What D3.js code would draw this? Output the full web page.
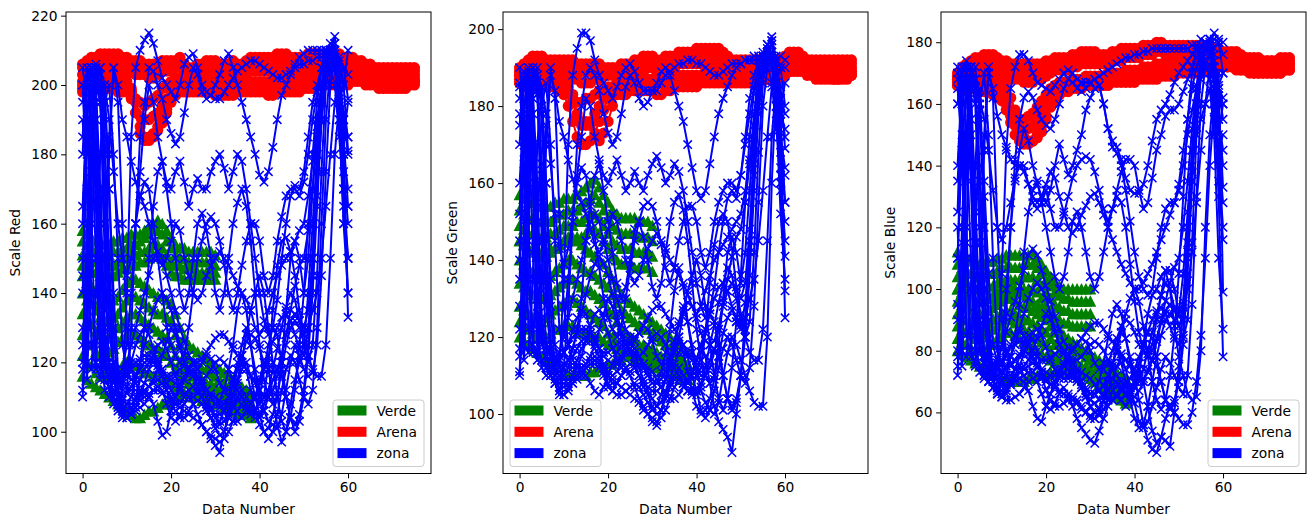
<!DOCTYPE html>
<html>
<head>
<meta charset="utf-8">
<script src="https://cdn.jsdelivr.net/npm/d3@7"></script>
<style>
  body { margin: 0; background: #fff; }
  text { font-family: "DejaVu Sans", sans-serif; }
</style>
</head>
<body>
<div id="chart"></div>
<script>
// ticks and labels
const xTicks = [0, 20, 40, 60];
const yTicksRed = [100, 120, 140, 160, 180, 200, 220];
const yTicksGreen = [100, 120, 140, 160, 180, 200];
const yTicksBlue = [60, 80, 100, 120, 140, 160, 180];
const yLabels = ["Scale Red", "Scale Green", "Scale Blue"];
const xLabel = "Data Number";
const legendNames = ["Verde", "Arena", "zona"];
const legendColors = ["#008000", "#ff0000", "#0000ff"];

// ---- Scale Red ----
const verdeRed = [
  [158,157,156,155,155,154,154,155,155,156,156,157,157,157,158,159,160,161,160,158,156,154,153,153,152,152,152,152,152,152,151],
  [155,154,153,152,152,151,151,152,152,153,153,154,154,155,156,157,158,158,157,155,153,151,150,150,149,149,149,149,149,149,148],
  [151,150,149,149,148,148,148,148,149,150,150,151,151,152,152,153,154,154,153,151,149,148,148,147,147,147,146,146,146,146,146],
  [148,147,146,146,145,145,145,145,146,147,147,148,148,149,149,150,151,151,150,148,146,145,145,144,144,144,144,144,144,144,144],
  [145,143,142,140,138,137,137,138,139,141,143,144,144,143,142,141,140,139,139,138,137,134,130,127,125,124,123,122,121,120,119,118,117,116,115,114,113,112,111],
  [140,138,137,135,133,132,132,133,134,136,138,139,139,138,137,136,135,134,134,133,132,128,125,122,121,120,119,118,118,117,116,115,114,113,112,111,110,109,108],
  [134,132,131,129,128,127,127,128,130,131,133,134,134,133,132,131,130,129,128,127,125,122,120,118,117,116,115,115,114,114,113,112,111,110,110,109,108,107,107],
  [128,126,125,123,122,122,123,124,126,127,128,129,128,127,126,125,124,124,123,122,120,118,116,115,114,113,112,112,111,111,110,110,109,108,108,107,106,106,105],
  [122,120,119,117,116,116,116,117,118,119,120,120,119,118,117,117,116,116,115,115,114,113,112,111,111,110,110,109,109,109,108,108,107,107,106,106,105,105,104],
  [116,115,114,113,112,111,110,109,108,107,106,105,104,104,105,106,106,107,108,108,109,110,110,111,111,111,112,112,112,112,111,110,109,108,107,106,106,105,105]
];
const arenaRed = [
  [206,207,208,208,209,209,209,209,209,208, 208,207,207,207,206,206,206,206,207,207, 207,207,208,206,205,205,206,206,207,207, 207,206,206,206,207,206,206,207,208,208, 208,208,208,208,209,209,209,208,208,208, 208,209,209,209,209,209,209,209,209,208, 208,208,207,207,206,206,205,205,205,205, 205,205,205,205,205,205],
  [205,206,207,207,208,208,208,207,207,207, 207,206,205,205,205,204,204,205,206,206, 206,206,207,205,204,204,205,205,206,206, 206,205,205,205,206,206,206,206,207,207, 207,207,207,207,208,208,208,207,207,207, 207,208,208,208,208,208,208,208,208,207, 207,207,206,206,205,205,205,204,204,204, 204,204,204,204,204,204],
  [203,204,205,206,206,206,206,205,205,205, 205,204,203,203,203,202,202,203,204,204, 204,205,205,204,203,203,203,204,204,205, 204,203,203,204,204,205,205,205,205,206, 206,206,206,206,206,207,207,206,206,206, 206,206,207,207,207,207,207,207,206,206, 206,206,205,205,204,204,204,203,203,203, 203,203,203,203,203,203],
  [201,202,204,205,205,205,204,204,203,203, 203,199,192,186,184,184,185,187,189,192, 195,197,199,200,201,202,202,203,203,203, 203,202,202,202,203,203,203,203,204,204, 204,204,204,204,204,205,205,205,204,204, 205,205,205,205,206,206,206,206,205,205, 205,205,204,204,203,203,203,202,202,202, 202,202,202,202,202,202],
  [200,201,202,203,203,203,202,202,202,202, 201,198,196,195,194,195,196,197,199,200, 201,202,202,201,200,200,200,200,201,201, 200,200,200,200,200,201,201,201,201,201, 201,201,201,201,202,202,202,202,202,202, 203,203,203,204,204,204,204,204,203,203, 203,203,203,203,202,202,201,201,201,201, 201,201,201,201,201,201],
  [199,200,201,201,201,201,201,200,200,200, 200,198,195,191,190,190,191,192,194,196, 198,200,200,199,199,199,199,199,199,199, 198,198,198,198,198,199,199,199,199,199, 199,199,199,199,200,200,200,200,200,200, 201,201,201,202,202,202,202,202,201,201, 201,202,202,202,201,201,201,200,200,200, 200,200,200,200,201,201],
  [198,198,199,199,199,199,199,199,198,198, 198,196,192,188,185,185,186,188,190,193, 196,198,198,198,198,198,198,198,198,198, 197,197,197,197,197,198,198,198,198,198, 198,198,197,197,198,198,198,198,198,198, 199,199,199,200,200,200,200,200,200,200, 200,201,201,201,200,200,200,199,199,199, 199,199,199,199,200,200]
];
const zonaRed = [
  [200,202,205,206,203,195,170,140,118,110, 140,185,205,210,213,215,212,207,202,200, 198,196,200,206,208,209,205,200,198,197, 196,196,198,200,202,204,205,206,207,207, 206,205,204,203,202,202,203,204,205,206, 206,207,207,208,208,208,209,210,208,205, 196],
  [120,160,200,204,200,180,140,115,110,108, 112,130,160,185,195,205,204,200,196,190, 186,183,185,192,200,205,203,198,196,197, 200,203,207,209,205,200,195,190,185,180, 174,172,175,182,190,197,200,203,206,208, 209,210,210,210,210,210,210,209,207,200, 181],
  [165,190,205,200,170,130,118,116,115,118, 125,140,160,175,190,200,195,185,178,172, 170,175,178,172,165,170,173,170,170,175, 178,180,176,170,175,180,178,170,160,150, 140,132,128,130,138,150,160,168,171,170, 175,185,195,200,205,208,210,212,200,185, 165],
  [140,180,200,195,160,125,112,108,106,106, 108,110,115,120,130,150,165,175,178,170, 160,150,140,135,140,150,160,163,158,150, 140,135,140,150,160,166,170,165,155,140, 125,115,110,108,110,120,135,150,155,150, 140,150,170,190,200,205,208,206,190,165, 150],
  [180,205,190,150,120,115,113,110,108,107, 106,105,106,107,108,110,112,113,112,108, 104,103,105,108,110,108,105,102,100,98, 96,94,100,105,108,110,112,110,108,110, 115,120,118,110,102,97,100,108,115,120, 125,140,160,180,195,205,210,214,200,170, 140],
  [125,150,185,200,195,160,130,118,115,114, 113,112,112,112,111,110,108,103,99,100, 106,110,114,116,117,116,115,114,112,110, 108,107,108,110,113,118,125,130,125,118, 112,106,103,102,101,105,112,120,125,122, 118,116,117,125,145,175,200,210,205,180, 133],
  [195,200,198,180,150,128,120,117,116,115, 117,120,125,128,130,128,124,120,118,116, 115,114,113,115,118,120,118,115,112,110, 108,109,112,118,125,135,140,135,125,115, 108,110,120,135,148,155,156,152,145,135, 128,122,118,116,116,125,150,180,195,200, 210],
  [110,130,170,205,205,200,190,175,160,150, 145,150,160,168,172,170,160,150,140,130, 125,122,120,122,130,140,150,155,160,162, 160,155,148,140,135,140,148,155,160,160, 155,145,140,145,155,162,168,170,170,168, 172,180,190,198,205,210,212,210,195,160, 150],
  [150,120,118,140,180,200,170,130,112,105, 104,106,110,115,118,120,122,121,118,112, 108,106,104,104,106,108,109,108,106,104, 102,103,106,110,115,120,122,118,112,106, 102,100,101,105,110,118,125,130,132,130, 128,130,135,140,150,165,180,195,203,205, 203],
  [190,170,140,120,118,140,180,205,200,190, 185,178,172,168,165,160,155,150,148,150, 155,160,158,150,145,140,138,140,145,148, 150,152,150,148,145,142,140,138,135,130, 128,130,135,140,145,148,150,152,155,158, 160,168,178,188,196,202,205,200,185,170, 165],
  [200,170,125,118,150,195,200,180,150,125, 118,115,116,118,120,121,120,118,116,114, 112,110,112,115,117,118,116,113,110,107, 104,102,103,106,110,114,118,120,116,110, 105,100,98,100,105,112,118,122,120,115, 110,108,112,130,160,190,205,208,200,185, 195],
  [130,115,150,200,205,185,150,120,108,104, 104,105,107,110,112,113,114,115,114,112, 110,108,108,110,112,113,112,110,107,104, 101,99,100,104,107,109,110,108,106,106, 110,118,125,130,128,120,110,104,102,105, 112,125,150,180,200,208,210,208,196,175, 160],
  [185,205,200,165,130,118,115,114,114,115, 116,118,120,121,122,122,121,119,117,116, 116,117,118,119,118,116,113,110,108,106, 105,105,106,108,111,115,120,128,135,140, 145,140,130,120,110,103,100,104,112,125, 140,160,180,195,205,210,208,205,198,190, 185],
  [118,125,175,205,200,150,118,110,107,106, 106,107,108,109,110,111,112,112,111,110, 109,108,107,106,105,104,103,102,100,99, 98,97,98,100,103,106,108,107,105,104, 104,106,110,115,118,116,110,104,100,103, 110,122,140,165,190,204,210,205,190,160, 140],
  [160,200,205,190,140,120,115,112,110,110, 111,113,116,120,125,130,135,138,140,138, 135,130,125,120,118,117,118,120,122,121, 118,114,112,112,114,118,122,126,128,127, 124,120,118,117,118,122,128,135,142,148, 150,158,170,185,198,205,207,206,200,190, 180],
  [205,195,160,120,115,135,185,205,195,160, 130,118,114,112,112,113,115,118,122,126, 130,128,124,120,118,116,115,115,116,118, 120,121,120,118,115,112,110,108,106,105, 105,108,112,118,124,130,136,140,138,132, 125,120,125,145,175,200,208,205,195,170, 150],
  [145,190,205,175,125,112,110,111,113,116, 120,125,130,135,140,145,150,152,150,145, 140,135,130,126,122,120,120,121,123,125, 127,128,128,126,124,122,120,118,116,114, 112,110,110,112,116,122,128,132,134,132, 130,135,150,175,195,205,210,212,205,180, 170],
  [112,140,185,205,195,170,140,120,112,109, 108,108,109,111,114,118,122,125,126,124, 120,116,113,111,110,110,111,112,112,111, 110,108,106,104,103,103,104,106,108,110, 114,118,122,126,130,133,134,132,128,124, 122,130,145,168,190,202,206,207,202,192, 185]
];

// ---- Scale Green ----
const verdeGreen = [
  [157,156,155,155,154,154,154,154,155,155,156,156,156,157,158,159,160,161,159,157,155,153,152,151,151,151,151,150,150,150,149],
  [153,152,151,151,150,150,150,150,151,152,152,153,153,153,154,155,156,157,155,153,151,149,148,147,147,147,147,146,146,146,145],
  [149,148,147,147,146,146,146,147,147,148,149,149,149,150,150,151,152,152,151,149,147,145,144,143,143,143,142,142,142,142,141],
  [145,144,143,143,142,142,142,143,143,144,145,145,145,146,146,147,148,148,147,145,143,141,140,139,139,139,138,138,138,138,137],
  [145,144,143,142,141,141,141,142,143,144,145,146,146,145,144,143,142,141,140,139,137,135,133,131,130,129,128,127,126,125,124,123,122,121,120,119,118,117,116],
  [140,139,138,137,136,135,135,136,137,138,139,140,140,139,138,137,137,136,135,134,133,131,129,127,126,125,124,123,122,122,121,120,119,118,117,116,115,114,113],
  [134,133,132,131,130,130,130,131,132,133,134,135,135,134,133,132,132,131,130,129,127,126,124,122,121,120,119,118,118,117,117,116,115,115,114,113,113,112,112],
  [128,127,126,125,124,124,125,126,127,128,129,130,130,129,128,127,126,125,124,123,121,120,118,117,116,115,114,114,113,113,112,112,111,111,110,110,110,109,109],
  [124,123,122,121,120,120,120,121,122,122,123,123,123,122,121,121,120,120,120,119,118,118,117,116,116,115,115,115,114,114,113,113,112,112,111,111,110,110,110],
  [120,119,118,117,116,115,114,113,112,112,111,110,110,110,110,110,111,111,112,112,113,113,114,114,115,115,115,116,116,116,115,114,113,112,111,110,110,109,109]
];
const arenaGreen = [
  [190,191,192,193,193,193,192,192,192,192, 192,192,192,191,191,191,191,191,191,190, 190,190,190,191,191,191,192,192,193,193, 193,192,192,193,193,193,194,194,194,194, 195,195,195,195,195,195,194,193,192,192, 192,192,192,192,192,192,192,192,192,192, 193,194,194,194,193,192,192,192,192,192, 192,192,192,192,192,192],
  [189,190,191,192,192,192,191,191,191,191, 191,190,190,189,189,189,189,189,189,189, 189,189,189,190,190,190,191,191,192,192, 192,191,191,192,192,192,193,193,193,193, 194,194,194,194,194,194,193,192,191,191, 191,191,191,191,191,191,191,191,191,191, 192,193,193,193,192,192,191,191,191,191, 191,191,191,191,191,191],
  [188,189,190,190,190,190,190,190,190,189, 189,188,187,187,186,186,186,187,187,188, 188,188,188,189,189,189,190,190,190,190, 190,190,190,190,191,191,191,191,192,192, 192,192,193,193,193,193,192,191,190,190, 190,190,190,190,190,190,190,190,190,190, 191,192,192,192,191,191,190,190,190,190, 190,190,190,190,190,190],
  [188,189,190,190,190,190,189,189,189,189, 189,187,183,178,176,176,175,172,171,173, 176,180,183,186,188,189,189,189,189,190, 190,189,189,190,190,190,191,191,191,191, 191,191,191,191,191,191,190,190,189,189, 189,189,189,189,189,189,189,189,189,189, 190,191,191,191,190,190,190,189,189,189, 189,189,189,189,189,189],
  [187,187,188,188,188,188,188,188,188,187, 187,185,181,177,175,175,176,178,180,182, 184,185,185,185,185,185,186,186,186,186, 186,186,186,186,186,187,187,187,187,187, 187,187,188,188,188,188,188,187,187,187, 187,187,187,187,187,187,187,187,187,187, 188,189,189,189,189,188,188,187,187,187, 187,187,187,187,187,188],
  [186,186,187,187,187,187,187,187,187,186, 186,184,182,181,181,182,182,183,184,185, 185,185,186,186,186,186,187,187,187,187, 187,187,187,187,187,188,188,188,188,188, 188,188,189,189,189,189,189,188,188,188, 188,188,188,188,188,188,188,188,188,188, 189,190,190,190,190,189,189,188,188,188, 188,188,188,188,188,189],
  [186,185,185,185,185,185,185,185,185,184, 183,180,176,172,170,170,171,173,176,179, 182,183,183,183,183,184,184,184,184,184, 184,183,183,184,184,185,185,185,185,185, 185,186,186,186,186,186,186,186,186,186, 186,186,186,186,187,187,187,187,187,187, 188,189,190,190,190,189,189,188,188,188, 188,187,187,188,188,188]
];
const zonaGreen = [
  [185,187,189,190,187,180,160,135,118,112, 135,170,188,195,199,199,197,192,188,186, 184,182,185,188,190,191,189,186,184,184, 184,184,186,188,189,190,191,191,192,192, 191,191,190,189,188,188,189,190,191,191, 191,192,192,193,193,193,194,196,193,190, 180],
  [115,150,185,188,185,165,135,115,110,109, 112,128,150,170,180,188,190,188,184,178, 173,170,172,178,185,188,186,182,180,181, 184,186,189,190,188,184,180,176,170,164, 158,156,158,165,172,178,182,185,188,190, 191,192,192,192,192,192,193,192,190,185, 169],
  [160,180,188,184,160,125,117,115,114,116, 122,135,150,162,172,182,180,172,166,162, 160,163,166,162,158,160,163,160,158,162, 165,167,164,160,162,165,163,158,150,142, 134,128,125,127,133,142,150,156,158,156, 162,172,182,188,192,194,196,197,188,176, 155],
  [135,168,186,182,150,122,112,110,108,108, 110,112,117,122,130,145,155,162,165,158, 150,142,134,130,133,140,148,150,146,140, 133,130,134,142,150,155,157,153,145,134, 122,114,110,108,110,118,130,142,146,142, 134,142,158,175,185,190,193,192,180,160, 141],
  [170,188,178,142,118,114,112,110,109,108, 108,107,108,109,110,112,113,114,113,110, 107,106,108,110,112,110,107,104,102,100, 98,97,101,105,108,110,112,110,108,110, 114,118,115,108,102,98,96,94,90,100, 110,125,145,165,180,188,193,197,190,160, 132],
  [122,145,175,187,183,155,128,117,115,114, 113,112,112,112,111,110,108,106,105,107, 110,113,116,118,118,117,116,115,113,111, 109,108,109,111,114,118,124,128,124,118, 112,106,103,101,100,103,110,116,120,118, 114,110,106,103,102,102,120,160,185,176, 125],
  [182,186,185,170,145,125,118,116,115,114, 116,118,122,125,127,126,122,119,117,115, 114,113,113,115,117,119,117,115,112,110, 108,108,111,116,122,132,138,133,124,116, 110,112,121,134,144,150,152,150,143,133, 126,120,116,114,114,122,145,172,186,190, 190],
  [110,128,160,188,188,185,178,165,152,143, 139,143,152,160,164,162,154,146,138,130, 125,122,120,123,130,138,145,150,154,155, 154,150,144,138,134,138,145,150,154,154, 150,142,138,142,150,155,158,160,160,158, 162,170,178,185,190,193,195,193,182,158, 150],
  [145,118,116,135,170,185,160,128,112,106, 105,107,110,114,117,119,121,120,117,112, 108,106,105,105,106,107,108,107,105,103, 101,102,105,109,113,117,119,116,111,106, 102,100,101,104,109,115,121,125,127,125, 123,125,130,135,145,158,172,185,192,193, 192],
  [178,160,135,118,116,135,170,188,184,176, 172,166,161,157,155,152,148,144,142,144, 148,152,150,145,140,136,134,136,140,143, 145,147,145,143,140,138,136,134,131,128, 126,128,132,136,140,142,144,146,148,150, 152,158,166,175,182,188,191,186,174,164, 162],
  [186,165,122,116,145,180,186,170,145,122, 116,114,115,117,119,120,119,117,115,113, 111,110,111,114,116,117,115,112,109,106, 104,102,103,106,109,113,116,118,115,110, 106,101,99,101,106,112,117,120,118,114, 110,108,112,128,155,180,190,194,190,180, 186],
  [128,114,145,186,190,178,145,118,108,105, 105,106,108,110,112,113,114,115,114,112, 110,108,108,110,112,113,112,110,107,105, 102,100,101,104,107,109,110,108,106,106, 110,116,122,126,124,118,110,104,102,104, 110,122,145,170,186,192,193,192,184,168, 155],
  [175,189,186,158,128,118,115,114,114,115, 116,118,120,121,122,122,121,119,117,116, 116,117,118,119,118,116,113,110,108,107, 106,106,107,109,112,116,120,126,132,136, 140,136,128,118,110,104,101,104,112,124, 136,155,172,184,190,193,192,190,185,178, 174],
  [117,124,166,188,186,145,117,110,108,107, 107,108,109,110,111,112,113,113,112,111, 110,109,108,107,106,105,104,103,101,100, 99,98,99,101,104,107,109,108,106,105, 105,107,110,114,117,115,110,104,101,103, 110,120,136,158,178,190,194,192,178,152, 135],
  [152,186,190,178,135,119,115,112,111,111, 112,114,117,121,126,131,136,139,141,139, 136,131,126,121,119,118,119,121,123,122, 119,115,113,113,115,119,123,127,129,128, 125,121,119,118,119,123,129,135,141,146, 148,155,165,178,188,192,194,193,188,180, 172],
  [190,180,150,118,114,132,175,190,182,152, 128,118,114,112,112,113,115,118,122,126, 130,128,124,120,118,116,115,115,116,118, 120,121,120,118,115,112,110,108,106,106, 106,108,112,118,123,129,134,138,136,130, 124,120,124,142,168,186,194,193,184,162, 145],
  [140,178,190,165,122,112,110,111,113,116, 120,125,130,135,140,145,150,152,150,145, 140,135,130,126,122,120,120,121,123,125, 127,128,128,126,124,122,120,118,116,114, 112,110,110,112,116,122,128,132,134,132, 130,134,148,168,184,192,196,198,192,172, 164],
  [111,136,174,190,184,162,136,119,112,110, 109,109,110,112,115,119,123,126,127,125, 121,117,114,112,111,111,112,113,113,112, 111,109,107,105,104,104,105,107,109,111, 114,118,122,126,130,133,134,132,128,124, 122,129,142,162,180,190,193,194,190,182, 178]
];

// ---- Scale Blue ----
const verdeBlue = [
  [112,111,110,109,108,108,108,109,109,110,110,111,111,111,111,111,111,112,110,108,106,104,102,101,100,100,100,100,100,100,100],
  [108,107,106,105,104,104,104,105,105,106,107,107,107,107,107,108,108,108,107,105,103,101,99,98,97,97,96,96,96,96,96],
  [104,103,102,101,100,100,100,101,101,102,103,103,103,103,103,104,104,104,103,101,99,97,95,94,93,93,92,92,92,92,92],
  [100,99,98,97,96,96,96,97,97,98,99,99,99,99,99,100,100,100,99,97,95,93,91,90,89,89,88,88,88,88,88],
  [100,99,98,97,96,96,96,97,98,99,100,101,101,100,99,98,97,96,95,94,93,91,89,87,85,84,83,82,81,80,79,78,77,76,75,74,73,72,71],
  [96,95,94,93,92,92,92,93,94,95,96,97,97,96,95,94,94,93,92,91,90,88,86,84,83,82,81,80,79,78,77,76,75,74,73,72,71,70,70],
  [92,91,90,89,88,88,88,89,90,91,92,93,93,92,91,90,90,89,88,87,86,84,82,80,79,78,77,76,75,75,74,73,72,71,70,69,68,67,67],
  [88,87,86,85,84,84,85,86,87,88,89,90,90,89,88,87,86,85,84,83,82,80,78,77,76,75,74,73,72,72,71,70,69,68,67,66,65,64,63],
  [84,83,82,81,80,80,81,82,83,84,85,86,86,85,84,83,82,81,80,79,78,77,76,75,75,74,74,73,73,73,72,71,70,69,68,67,66,65,64],
  [80,79,78,77,76,75,74,73,72,72,71,70,70,70,70,70,71,71,72,72,72,73,73,73,74,74,74,74,73,73,72,71,70,69,68,67,66,65,64]
];
const arenaBlue = [
  [170,172,173,174,175,175,176,176,176,175, 174,174,173,173,173,173,173,173,173,173, 174,174,175,175,175,175,176,176,177,177, 177,177,176,176,176,177,177,178,178,178, 178,178,179,179,179,180,180,179,179,179, 179,179,179,179,179,179,179,179,178,178, 177,177,177,177,176,175,175,175,175,174, 174,174,174,175,175,175],
  [169,171,172,173,174,174,174,174,174,173, 172,172,171,171,171,170,170,170,171,171, 172,172,173,173,173,173,174,174,175,175, 175,175,175,175,175,176,176,176,177,177, 177,177,178,178,178,179,179,178,178,178, 178,178,178,178,178,178,178,178,177,177, 176,176,176,176,175,175,174,174,174,174, 174,174,174,174,174,174],
  [168,169,170,171,172,172,172,172,172,171, 170,169,168,168,168,167,167,167,168,168, 169,170,171,171,171,171,172,172,173,173, 173,173,173,173,173,174,174,174,175,175, 175,175,176,176,176,177,177,176,176,176, 176,176,176,176,177,177,177,177,176,176, 175,175,175,175,174,174,173,173,173,173, 173,173,173,173,173,173],
  [168,169,170,171,171,171,170,170,169,168, 167,165,162,158,152,149,148,148,149,151, 155,159,162,164,165,166,167,167,168,168, 168,168,168,168,169,169,169,169,170,170, 170,170,171,171,171,171,171,171,171,171, 171,172,172,172,172,173,173,173,173,173, 174,174,174,174,173,173,173,172,172,172, 172,172,172,172,173,173],
  [166,166,167,168,168,168,168,168,167,166, 164,161,158,156,155,155,156,157,159,161, 163,165,166,167,167,167,168,168,168,169, 169,169,169,169,170,170,170,170,171,171, 171,171,172,172,172,173,173,173,173,173, 173,173,173,173,174,174,174,174,174,174, 173,173,173,173,172,172,172,171,171,171, 171,171,171,171,172,172],
  [167,167,167,167,167,167,166,166,165,164, 163,160,156,153,151,151,152,153,155,157, 160,162,164,165,165,166,166,166,167,167, 167,167,167,167,168,168,168,168,169,169, 169,169,170,170,170,170,171,171,171,171, 171,171,171,171,172,172,172,172,172,173, 172,172,172,172,171,171,171,170,170,170, 170,170,170,170,171,171],
  [166,165,165,165,165,165,164,164,163,162, 161,158,154,150,148,147,147,148,150,153, 156,159,161,163,164,164,165,165,165,166, 166,166,166,166,166,167,167,167,167,167, 167,168,168,168,168,168,169,169,169,169, 170,170,170,170,170,171,171,171,171,172, 172,172,172,171,171,171,170,170,170,170, 170,170,170,170,171,171]
];
const zonaBlue = [
  [168,170,172,172,168,158,135,105,82,76, 105,145,165,172,176,176,174,170,167,166, 165,164,166,168,170,171,170,168,167,167, 167,168,169,170,171,172,173,174,175,175, 176,176,177,177,178,178,178,178,178,178, 178,178,178,179,179,179,180,181,181,180, 176],
  [80,120,165,170,165,140,100,76,70,68, 72,92,120,142,155,162,164,162,158,155, 153,152,155,160,165,168,167,165,164,165, 167,168,166,160,152,148,146,142,136,132, 131,131,134,140,148,155,158,160,163,167, 170,172,174,176,178,179,180,181,183,181, 180],
  [135,160,170,165,130,90,76,74,73,75, 82,100,120,135,145,152,148,140,134,130, 128,132,140,147,142,137,140,145,150,158, 162,165,166,160,152,146,144,140,132,122, 112,104,100,98,100,110,120,126,128,128, 134,145,155,165,172,176,178,180,172,160, 133],
  [110,145,168,162,125,85,72,70,68,68, 70,72,78,85,95,112,125,132,135,128, 120,112,104,100,104,112,122,125,120,112, 104,100,104,112,120,126,130,128,120,108, 96,86,80,78,82,90,98,106,106,100, 92,105,125,145,160,168,172,170,158,135, 116],
  [140,168,150,110,80,75,72,70,68,66, 65,64,64,65,66,68,70,71,70,66, 62,61,63,66,68,66,62,58,55,53, 51,50,54,58,62,64,66,64,62,64, 70,74,70,62,54,50,52,51,49,60, 75,95,120,140,150,155,160,165,150,110, 87],
  [90,115,150,168,160,120,90,78,75,74, 73,72,72,72,71,70,67,62,58,57, 62,66,70,72,73,72,71,70,68,66, 64,63,64,66,70,75,82,88,84,78, 72,64,56,51,48,47,52,58,62,60, 58,56,56,60,70,85,110,140,160,130, 78],
  [160,168,166,150,115,88,80,77,76,75, 76,78,82,85,86,85,82,78,76,74, 73,72,72,74,76,78,76,74,70,68, 66,66,70,76,84,92,95,92,84,76, 68,72,82,92,98,100,104,106,100,88, 78,72,66,64,65,80,120,150,165,170, 99],
  [75,100,140,170,168,162,155,145,132,120, 116,120,128,136,140,140,134,128,126,128, 132,126,120,120,124,130,136,140,142,143, 142,138,132,126,122,126,132,138,142,142, 140,132,126,128,136,145,150,156,158,158, 160,164,168,172,175,178,180,176,165,150, 160],
  [120,80,78,100,140,165,130,90,72,66, 65,66,70,74,78,82,85,84,80,72, 67,64,62,62,63,64,65,64,62,60, 58,58,60,64,70,76,80,76,70,64, 58,55,56,62,70,78,85,90,92,90, 88,92,100,112,128,145,160,172,178,180, 170],
  [165,145,110,80,76,100,145,170,165,156, 150,146,142,140,140,138,134,130,128,130, 134,138,136,130,125,120,118,120,124,127, 130,131,128,124,120,116,112,108,105,102, 100,100,102,105,108,112,116,120,124,128, 132,140,150,158,165,170,174,168,155,145, 150],
  [170,150,85,78,115,160,170,150,110,80, 76,74,75,77,79,80,79,77,75,73, 71,69,70,73,75,76,74,71,68,65, 62,60,61,64,67,71,75,78,74,68, 63,57,55,57,62,68,74,78,76,72, 68,66,72,95,130,160,172,176,174,166, 170],
  [95,75,115,168,172,158,120,84,70,66, 66,67,69,71,73,74,75,76,75,73, 71,69,69,71,73,74,73,71,68,65, 62,60,61,64,67,69,70,68,66,66, 70,76,82,86,84,78,70,64,62,64, 70,85,115,145,165,175,178,177,170,155, 140],
  [160,172,170,135,92,80,76,75,75,76, 77,79,81,82,83,83,82,80,78,77, 77,78,79,80,79,77,74,71,69,67, 66,66,67,69,72,76,80,86,92,97, 100,96,88,78,70,64,61,64,72,85, 105,130,155,170,178,181,180,178,172,165, 160],
  [78,90,145,172,168,115,78,70,68,67, 67,68,69,70,71,72,73,73,72,71, 70,69,68,67,66,65,64,63,61,60, 59,58,59,61,64,67,69,68,66,65, 65,67,70,74,77,75,70,64,61,63, 70,82,105,135,160,175,180,178,165,140, 120],
  [125,170,174,155,100,80,76,73,72,72, 73,75,78,82,87,92,97,100,102,100, 97,92,87,82,80,79,80,82,84,83, 80,76,74,74,76,80,84,88,90,89, 86,82,80,79,80,84,90,96,102,107, 110,120,135,152,166,174,178,177,172,165, 155],
  [172,162,120,80,75,95,150,172,162,120, 90,80,76,74,74,75,77,80,84,88, 92,90,86,82,80,78,77,77,78,80, 82,83,82,80,77,74,72,70,68,68, 68,70,74,80,86,92,98,102,100,94, 88,84,90,115,150,170,178,177,168,145, 128],
  [110,160,172,140,85,73,71,72,74,77, 81,86,91,96,101,106,111,113,111,106, 101,96,91,87,83,81,81,82,84,86, 88,89,89,87,85,83,81,79,77,75, 73,71,71,73,77,83,89,93,95,93, 91,96,112,138,160,172,178,181,176,155, 145],
  [72,100,150,172,165,135,100,80,73,70, 69,69,70,72,75,79,83,86,87,85, 81,77,74,72,71,71,72,73,73,72, 71,69,67,65,64,64,65,67,69,71, 74,78,82,86,90,93,94,92,88,84, 82,92,110,135,158,172,178,179,174,165, 162]
];

// options built from the arrays above
const panels = [
  {label: yLabels[0], ticks: yTicksRed,   verde: verdeRed,   arena: arenaRed,   zona: zonaRed,   legend: "right"},
  {label: yLabels[1], ticks: yTicksGreen, verde: verdeGreen, arena: arenaGreen, zona: zonaGreen, legend: "left"},
  {label: yLabels[2], ticks: yTicksBlue,  verde: verdeBlue,  arena: arenaBlue,  zona: zonaBlue,  legend: "right"}
];

const W = 1315, H = 527;
const axLeft = [66, 503, 941];
const axW = 365, axTop = 12, axH = 461.5;
const fs = 13.8;

const svg = d3.select("#chart").append("svg")
    .attr("width", W)
    .attr("height", H)
    .attr("viewBox", [0, 0, W, H]);

const triPath = "M0,-6L6,5.5L-6,5.5Z";
const crossPath = "M-4.2,-4.2L4.2,4.2M-4.2,4.2L4.2,-4.2";

panels.forEach((p, k) => {
    const left = axLeft[k];
    const g = svg.append("g").attr("transform", `translate(${left},${axTop})`);

    // matplotlib-like autoscale: 5% margins around data
    const allY = [].concat(...p.verde, ...p.arena, ...p.zona);
    const [lo, hi] = d3.extent(allY);
    const pad = (hi - lo) * 0.05;
    const x = d3.scaleLinear().domain([-3.75, 78.75]).range([0, axW]);
    const y = d3.scaleLinear().domain([lo - pad, hi + pad]).range([axH, 0]);

    const clipId = "clip" + k;
    g.append("clipPath").attr("id", clipId)
        .append("rect").attr("width", axW).attr("height", axH);
    const plot = g.append("g").attr("clip-path", `url(#${clipId})`);

    const line = d3.line().x((d, i) => x(i)).y(d => y(d));

    // Verde: triangles
    p.verde.forEach(s => {
        const sg = plot.append("g");
        sg.append("path").attr("d", line(s))
            .attr("fill", "none").attr("stroke", legendColors[0]).attr("stroke-width", 2);
        sg.selectAll("path.m").data(s).join("path")
            .attr("class", "m")
            .attr("d", triPath)
            .attr("transform", (d, i) => `translate(${x(i)},${y(d)})`)
            .attr("fill", legendColors[0]);
    });

    // Arena: circles
    p.arena.forEach(s => {
        const sg = plot.append("g");
        sg.append("path").attr("d", line(s))
            .attr("fill", "none").attr("stroke", legendColors[1]).attr("stroke-width", 2);
        sg.selectAll("circle").data(s).join("circle")
            .attr("cx", (d, i) => x(i))
            .attr("cy", d => y(d))
            .attr("r", 5.6)
            .attr("fill", legendColors[1]);
    });

    // zona: x markers
    p.zona.forEach(s => {
        const sg = plot.append("g");
        sg.append("path").attr("d", line(s))
            .attr("fill", "none").attr("stroke", legendColors[2]).attr("stroke-width", 2);
        sg.selectAll("path.m").data(s).join("path")
            .attr("class", "m")
            .attr("d", crossPath)
            .attr("transform", (d, i) => `translate(${x(i)},${y(d)})`)
            .attr("fill", "none")
            .attr("stroke", legendColors[2])
            .attr("stroke-width", 1.5);
    });

    // Axes
    const xAxis = g.append("g")
        .attr("transform", `translate(0,${axH})`)
        .call(d3.axisBottom(x).tickValues(xTicks).tickSize(4.9).tickPadding(3.5));
    const yAxis = g.append("g")
        .call(d3.axisLeft(y).tickValues(p.ticks).tickSize(4.9).tickPadding(3.5));
    [xAxis, yAxis].forEach(a => {
        a.select(".domain").remove();
        a.selectAll("line").attr("stroke", "#000").attr("stroke-width", 1);
        a.selectAll("text").attr("font-size", fs).attr("fill", "#000")
            .attr("font-family", "DejaVu Sans");
    });

    // spines
    g.append("rect")
        .attr("width", axW).attr("height", axH)
        .attr("fill", "none").attr("stroke", "#000").attr("stroke-width", 1);

    // axis labels
    g.append("text")
        .attr("x", axW / 2).attr("y", axH + 40.5)
        .attr("text-anchor", "middle")
        .attr("font-size", fs)
        .text(xLabel);
    g.append("text")
        .attr("transform", `translate(-46,${axH / 2}) rotate(-90)`)
        .attr("text-anchor", "middle")
        .attr("font-size", fs)
        .text(p.label);

    // legend with patches
    const lw = 91, lh = 66.5;
    const lx = p.legend === "right" ? axW - 7 - lw : 7;
    const ly = axH - 7 - lh;
    const lg = g.append("g").attr("transform", `translate(${lx},${ly})`);
    lg.append("rect")
        .attr("width", lw).attr("height", lh).attr("rx", 3)
        .attr("fill", "#fff").attr("fill-opacity", 0.8)
        .attr("stroke", "#cccccc").attr("stroke-width", 1);
    legendNames.forEach((name, i) => {
        const cy = 10.5 + i * 21.3;
        lg.append("rect")
            .attr("x", 4.5).attr("y", cy - 5)
            .attr("width", 29).attr("height", 10)
            .attr("fill", legendColors[i]);
        lg.append("text")
            .attr("x", 43.5).attr("y", cy + 5)
            .attr("font-size", fs)
            .text(name);
    });
});
</script>
</body>
</html>
